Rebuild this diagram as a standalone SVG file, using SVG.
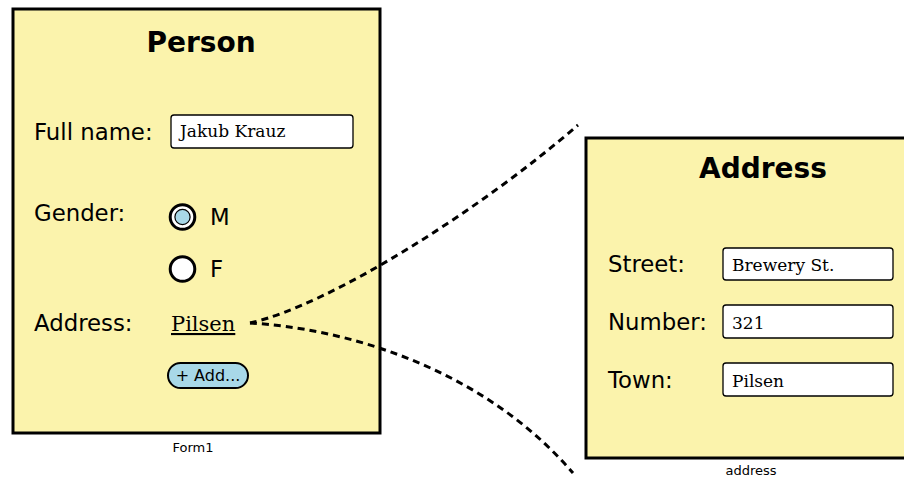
<svg xmlns="http://www.w3.org/2000/svg" width="904" height="478" viewBox="0 0 904 478">
<style>
.box{fill:#fbf3ac;stroke:#000;stroke-width:3}
.title{font-family:"DejaVu Sans",sans-serif;font-weight:bold;font-size:28px;text-anchor:middle}
.lbl{font-family:"DejaVu Sans",sans-serif;font-size:22.8px}
.fld{fill:#fff;stroke:#000;stroke-width:1.3}
.val{font-family:"DejaVu Serif",serif;font-size:17px}
.cap{font-family:"DejaVu Sans",sans-serif;font-size:13px;text-anchor:middle}
.conn{fill:none;stroke:#000;stroke-width:3;stroke-dasharray:7 5}
.radio{fill:#fff;stroke:#000;stroke-width:3}
</style>
<rect width="904" height="478" fill="#fff"/>
<g id="person">
<rect class="box" x="13" y="9" width="367" height="424"/>
<text class="title" x="201" y="52">Person</text>
<text class="lbl" x="34" y="140">Full name:</text>
<rect class="fld" x="171" y="115" width="182" height="33" rx="3"/>
<text class="val" x="180" y="137">Jakub Krauz</text>
<text class="lbl" x="34" y="221">Gender:</text>
<circle class="radio" cx="182.5" cy="217" r="12.3"/>
<circle cx="182.5" cy="217" r="7.6" fill="#a8d8e8" stroke="#000" stroke-width="1.2"/>
<text class="lbl" x="210" y="225">M</text>
<circle class="radio" cx="182.5" cy="269" r="12.3"/>
<text class="lbl" x="210" y="277">F</text>
<text class="lbl" x="34" y="331">Address:</text>
<text class="val" x="171" y="331" style="font-size:21px" text-decoration="underline">Pilsen</text>
<rect x="168" y="363" width="80" height="25" rx="12.5" fill="#a8d8e8" stroke="#000" stroke-width="2"/>
<text x="208" y="381" font-family="DejaVu Sans, sans-serif" font-size="16" text-anchor="middle">+ Add...</text>
<text class="cap" x="193" y="452">Form1</text>
</g>
<g id="address">
<rect class="box" x="586" y="138" width="322" height="320"/>
<text class="title" x="763" y="178">Address</text>
<text class="lbl" x="608" y="272">Street:</text>
<rect class="fld" x="723" y="248" width="170" height="32" rx="3"/>
<text class="val" x="732" y="271">Brewery St.</text>
<text class="lbl" x="608" y="330">Number:</text>
<rect class="fld" x="723" y="305" width="170" height="33" rx="3"/>
<text class="val" x="732" y="329">321</text>
<text class="lbl" x="608" y="388">Town:</text>
<rect class="fld" x="723" y="363" width="170" height="33" rx="3"/>
<text class="val" x="732" y="387">Pilsen</text>
<text class="cap" x="751" y="475">address</text>
</g>
<g id="connectors">
<path class="conn" d="M250,323 C330,305 480,210 578,125"/>
<path class="conn" d="M250,323 C340,328 480,365 573,473"/>
</g>
</svg>
